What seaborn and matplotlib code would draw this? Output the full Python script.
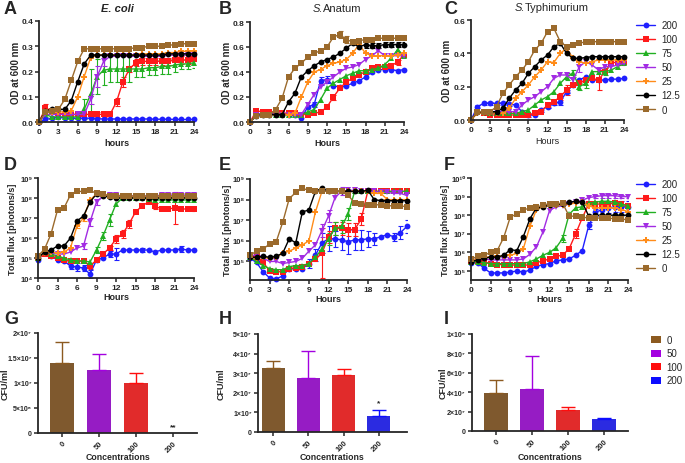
import numpy as np
import pandas as pd
import matplotlib
matplotlib.use("Agg")
import matplotlib.pyplot as plt
import seaborn as sns
from matplotlib.lines import Line2D
from matplotlib.patches import Patch

hours = list(range(25))
concs = ["200", "100", "75", "50", "25", "12.5", "0"]
colors = ["#1f1fff", "#ff1a1a", "#22b022", "#a22be3", "#ff8c1a", "#000000", "#9b6a2c"]
markers = ["o", "s", "^", "v", "P", "o", "s"]

# OD600, E. coli (rows: 200, 100, 75, 50, 25, 12.5, 0)
od_ecoli = [
    [0, .01, .015, .02, .015, .015, .015, .015, .015, .013, .012, .012, .012, .012, .012, .012, .012, .012, .011, .011, .011, .01, .01, .01, .01],
    [0, .055, .045, .035, .03, .03, .03, .03, .03, .03, .03, .03, .08, .16, .21, .235, .24, .24, .24, .24, .24, .245, .245, .245, .25],
    [0, .03, .02, .02, .02, .02, .02, .05, .11, .18, .205, .21, .21, .21, .21, .21, .21, .215, .215, .22, .22, .225, .23, .23, .235],
    [0, .03, .03, .03, .03, .03, .03, .03, .09, .18, .24, .26, .26, .26, .26, .26, .26, .26, .26, .26, .265, .265, .265, .265, .265],
    [0, .04, .04, .04, .04, .045, .10, .18, .255, .265, .265, .265, .265, .265, .265, .265, .27, .27, .27, .27, .275, .275, .28, .28, .28],
    [0, .045, .05, .05, .05, .085, .16, .23, .265, .265, .265, .265, .265, .265, .265, .265, .265, .265, .265, .265, .27, .27, .27, .27, .27],
    [0, .04, .045, .05, .09, .165, .24, .29, .29, .29, .29, .29, .29, .29, .29, .295, .295, .30, .30, .30, .305, .305, .31, .31, .31],
]
od_ecoli_err = {
    "100": [0, .015, 0, 0, 0, 0, 0, 0, .01, .01, .01, 0, .015, .02, .012, .015, .015, .015, .015, .015, .015, .015, .015, .015, .015],
    "75": [0, .01, 0, 0, 0, 0, 0, .04, .1, .07, .06, .05, .05, .05, .05, .03, .03, .03, .03, .03, .03, .025, .02, .02, .02],
    "50": [0, 0, 0, 0, 0, 0, 0, 0, .02, .04, .02, 0, 0, 0, 0, 0, 0, 0, 0, 0, 0, 0, 0, 0, 0],
}

# OD600, S. Anatum
od_anatum = [
    [0, .06, .07, .07, .07, .07, .06, .06, .03, .12, .14, .33, .34, .29, .28, .29, .31, .33, .36, .40, .42, .42, .42, .41, .42],
    [0, .09, .08, .08, .08, .07, .07, .07, .06, .06, .07, .08, .12, .20, .27, .32, .35, .38, .40, .43, .44, .44, .45, .48, .54],
    [0, .06, .06, .06, .06, .06, .06, .06, .06, .08, .10, .18, .27, .31, .34, .37, .39, .41, .41, .42, .43, .46, .51, .58, .53],
    [0, .06, .06, .06, .06, .06, .06, .06, .06, .14, .22, .28, .32, .36, .40, .43, .44, .46, .50, .53, .57, .53, .53, .53, .53],
    [0, .05, .06, .06, .06, .06, .06, .07, .20, .32, .40, .42, .45, .47, .48, .50, .55, .62, .55, .53, .53, .53, .53, .54, .55],
    [0, .05, .06, .06, .06, .06, .16, .23, .36, .41, .45, .48, .50, .52, .55, .59, .63, .60, .62, .61, .61, .62, .62, .62, .62],
    [0, .05, .06, .06, .10, .19, .36, .43, .47, .52, .55, .57, .60, .68, .70, .66, .64, .65, .66, .66, .67, .67, .67, .67, .67],
]
od_anatum_err = {
    "200": [0] * 10 + [.02, .03, .03] + [0] * 12,
    "100": [0] * 13 + [.02] + [0] * 9 + [.02, .02],
    "0": [0] * 14 + [.03, .03] + [0] * 9,
    "12.5": [0] * 18 + [.03, .02, .02, .02, .02, .02, .02],
}

# OD600, S. Typhimurium
od_typhi = [
    [0, .08, .10, .10, .10, .10, .095, .09, .05, .03, .03, .06, .08, .10, .11, .17, .21, .24, .26, .24, .24, .24, .245, .245, .25],
    [0, .05, .04, .03, .03, .03, .03, .03, .03, .03, .04, .05, .09, .11, .14, .18, .21, .22, .24, .25, .24, .29, .34, .35, .35],
    [0, .05, .05, .04, .04, .04, .04, .04, .05, .06, .09, .12, .14, .17, .22, .26, .28, .20, .22, .29, .29, .29, .30, .32, .34],
    [0, .05, .05, .05, .05, .05, .05, .05, .09, .12, .14, .17, .20, .25, .27, .27, .24, .32, .35, .33, .30, .32, .32, .33, .34],
    [0, .04, .04, .04, .04, .04, .07, .13, .17, .21, .26, .30, .35, .345, .40, .43, .37, .35, .34, .35, .36, .36, .36, .36, .36],
    [0, .05, .05, .05, .05, .07, .13, .18, .22, .28, .32, .36, .39, .44, .46, .40, .37, .37, .375, .38, .38, .38, .38, .38, .38],
    [0, .05, .05, .05, .08, .16, .21, .26, .30, .35, .42, .46, .53, .55, .47, .44, .45, .46, .47, .47, .47, .47, .47, .47, .47],
]
od_typhi_err = {
    "200": [0, .01, .01, .01, .01, .01, .01, 0, 0, .01, 0, .01, .01, .01, .02, .01] + [0] * 9,
    "100": [0] * 14 + [.02, .03, 0, 0, 0, 0, .06, 0, 0, .02, .02],
    "75": [0] * 15 + [.02, .02, .02, .03, 0, 0, .02, 0, 0, 0],
    "50": [0] * 16 + [.03, .03, 0, 0, 0, 0, 0, 0, 0],
}

# log10 total flux (photons/s), E. coli
flux_ecoli = [
    [4.9, 5.3, 5.1, 4.9, 4.85, 4.6, 4.55, 4.5, 4.2, 4.9, 5.0, 5.2, 5.2, 5.4, 5.4, 5.4, 5.4, 5.4, 5.3, 5.4, 5.4, 5.4, 5.45, 5.4, 5.4],
    [5.0, 5.2, 5.1, 5.0, 4.9, 4.85, 4.85, 4.85, 4.6, 4.9, 5.2, 5.5, 5.95, 6.2, 6.7, 7.3, 7.6, 7.8, 7.6, 7.45, 7.45, 7.5, 7.45, 7.45, 7.45],
    [5.0, 5.3, 5.2, 5.1, 5.0, 4.9, 4.85, 4.85, 4.8, 5.4, 6.1, 6.9, 7.7, 8.0, 8.0, 8.0, 8.0, 7.95, 7.9, 7.9, 7.9, 7.9, 7.9, 7.9, 7.9],
    [5.0, 5.3, 5.25, 5.2, 5.2, 5.3, 5.5, 5.6, 6.8, 7.8, 8.1, 8.15, 8.15, 8.1, 8.1, 8.1, 8.1, 8.1, 8.1, 8.15, 8.15, 8.15, 8.15, 8.15, 8.15],
    [5.0, 5.25, 5.3, 5.25, 5.3, 5.5, 6.6, 7.0, 7.9, 8.2, 8.2, 8.1, 8.1, 8.05, 8.05, 8.05, 8.05, 8.05, 8.05, 8.05, 8.05, 8.05, 8.05, 8.05, 8.05],
    [5.0, 5.3, 5.4, 5.6, 5.6, 6.0, 6.85, 7.1, 7.8, 8.2, 8.1, 8.05, 8.0, 8.0, 8.0, 8.0, 8.0, 8.0, 8.0, 8.0, 8.0, 8.0, 8.0, 8.0, 8.0],
    [5.1, 5.44, 6.2, 7.4, 7.5, 8.16, 8.33, 8.33, 8.38, 8.23, 8.2, 8.1, 8.1, 8.1, 8.1, 8.1, 8.1, 8.1, 8.1, 8.1, 8.1, 8.1, 8.1, 8.1, 8.1],
]
flux_ecoli_err = {
    "200": [0, 0, 0, 0, 0, .15, .2, .15, .2, 0, 0, .15, .3, 0, 0, 0, .1, 0, 0, 0, 0, 0, .15, 0, 0],
    "100": [0, 0, 0, 0, 0, 0, 0, 0, .15, 0, 0, .1, .2, .2, .2, 0, 0, 0, .15, 0, 0, .8, 0, 0, .1],
    "75": [0, 0, 0, 0, 0, 0, 0, 0, 0, .15, .2, .3, 0, 0, 0, 0, 0, 0, 0, 0, 0, 0, 0, 0, 0],
    "50": [0, 0, 0, 0, 0, 0, 0, .15, .2, .15, 0, 0, 0, 0, 0, 0, 0, 0, 0, .1, .1, .1, .1, .1, .1],
    "25": [0, 0, 0, 0, 0, 0, .1, .15, 0, 0, 0, 0, 0, 0, 0, 0, 0, 0, 0, 0, 0, 0, 0, 0, 0],
}

# log10 total flux, S. Anatum
flux_anatum = [
    [5.15, 4.95, 4.5, 4.2, 4.15, 4.3, 4.65, 4.65, 4.65, 4.9, 5.3, 5.9, 6.1, 6.1, 6.05, 5.95, 6.05, 6.05, 6.1, 6.1, 6.2, 6.3, 6.2, 6.4, 6.7],
    [5.3, 5.2, 4.95, 4.55, 4.5, 4.5, 4.65, 4.7, 4.75, 4.9, 5.1, 5.4, 6.2, 6.6, 6.6, 6.55, 6.55, 7.05, 8.4, 8.4, 8.4, 8.4, 8.4, 8.4, 8.4],
    [5.2, 5.0, 4.8, 4.65, 4.6, 4.6, 4.75, 4.8, 4.8, 4.9, 5.2, 5.6, 6.1, 6.6, 6.7, 7.3, 8.4, 8.4, 8.4, 8.4, 8.4, 8.4, 8.4, 8.4, 8.4],
    [5.3, 5.3, 5.15, 5.0, 5.0, 4.9, 4.95, 5.0, 5.15, 5.5, 5.8, 6.5, 7.2, 8.1, 8.4, 8.45, 8.45, 8.4, 8.4, 8.4, 8.35, 8.35, 8.3, 8.3, 8.2],
    [5.2, 5.15, 5.2, 5.15, 5.2, 5.4, 5.5, 5.65, 5.8, 6.0, 7.4, 8.4, 8.4, 8.4, 8.4, 8.4, 8.4, 8.4, 8.4, 8.3, 8.3, 8.0, 8.0, 8.0, 8.0],
    [5.2, 5.2, 5.25, 5.2, 5.25, 5.4, 6.1, 5.9, 7.4, 7.5, 8.4, 8.55, 8.4, 8.4, 8.4, 8.4, 8.4, 8.4, 8.45, 8.0, 7.95, 7.95, 7.95, 7.95, 7.95],
    [5.3, 5.5, 5.6, 5.85, 5.95, 6.9, 8.05, 8.35, 8.55, 8.45, 8.4, 8.4, 8.4, 8.4, 8.4, 8.2, 7.85, 7.8, 7.75, 7.75, 7.75, 7.7, 7.7, 7.7, 7.65],
]
flux_anatum_err = {
    "200": [0, 0, 0, 0, 0, 0, 0, 0, 0, .2, .3, .5, .6, .4, .5, .6, .5, .5, .4, .3, 0, 0, .2, .3, .3],
    "100": [0, 0, 0, 0, 0, 0, 0, 0, 0, 0, 0, 1.2, .3, .3, .3, .3, .3, .3, 0, 0, 0, 0, 0, 0, 0],
    "75": [0, 0, 0, 0, 0, 0, 0, 0, 0, 0, 0, 0, .3, .3, .3, .3, 0, 0, 0, 0, 0, 0, 0, 0, 0],
    "50": [0, 0, 0, 0, 0, 0, 0, 0, 0, 0, 0, .3, .3, 0, .2, 0, 0, 0, 0, 0, 0, 0, 0, 0, 0],
}

# log10 total flux, S. Typhimurium
flux_typhi = [
    [5.45, 5.45, 5.15, 4.9, 4.9, 4.9, 4.95, 5.0, 4.95, 5.05, 5.25, 5.35, 5.4, 5.55, 5.6, 5.65, 5.85, 6.1, 7.45, 8.15, 8.3, 8.4, 8.45, 8.45, 8.45],
    [5.55, 5.55, 5.5, 5.4, 5.35, 5.35, 5.35, 5.3, 5.3, 5.35, 5.45, 5.55, 5.65, 5.8, 5.85, 6.2, 7.0, 7.85, 8.6, 8.6, 8.6, 8.6, 8.65, 8.6, 8.5],
    [5.5, 5.5, 5.45, 5.4, 5.4, 5.4, 5.4, 5.4, 5.4, 5.5, 5.65, 5.85, 6.0, 6.25, 6.75, 8.05, 8.4, 8.45, 8.65, 8.7, 8.75, 8.75, 8.7, 8.6, 8.5],
    [5.6, 5.65, 5.65, 5.6, 5.6, 5.6, 5.6, 5.6, 5.65, 5.9, 6.3, 7.1, 8.25, 8.45, 8.5, 8.6, 8.7, 8.8, 8.95, 9.0, 9.05, 9.05, 9.05, 9.0, 9.0],
    [5.55, 5.65, 5.75, 5.75, 5.8, 5.8, 5.85, 5.95, 6.2, 7.4, 8.3, 8.45, 8.5, 8.55, 8.55, 8.6, 8.65, 8.7, 8.5, 8.4, 8.4, 8.4, 8.4, 8.3, 8.2],
    [5.5, 5.6, 5.7, 5.75, 5.75, 5.85, 6.15, 6.1, 6.85, 7.8, 8.4, 8.45, 8.55, 8.6, 8.6, 8.7, 8.75, 8.7, 7.95, 8.0, 8.0, 8.0, 8.0, 8.0, 8.0],
    [5.63, 5.8, 5.85, 6.0, 6.1, 6.8, 7.9, 8.07, 8.29, 8.38, 8.42, 8.55, 8.62, 8.63, 8.65, 7.95, 7.95, 7.9, 7.85, 7.85, 7.85, 7.85, 7.8, 7.8, 7.75],
]
flux_typhi_err = {
    "200": [0, 0, 0, 0, 0, 0, 0, 0, 0, 0, 0, 0, 0, 0, 0, 0, 0, 0, .2, .2, .3, .3, .3, .3, .3],
    "100": [0, 0, 0, 0, 0, 0, 0, 0, 0, 0, 0, 0, 0, 0, 0, 0, .25, 0, 0, 0, 0, 0, 0, 0, 0],
    "75": [0, 0, 0, 0, 0, 0, 0, 0, 0, 0, 0, 0, 0, 0, .2, 0, 0, 0, 0, 0, 0, 0, 0, 0, 0],
    "50": [0, 0, 0, 0, 0, 0, 0, 0, 0, 0, 0, 0, 0, 0, 0, 0, 0, 0, 0, .1, .1, .1, .1, .1, .1],
}

# CFU/ml at 24 h
bar_concs = ["0", "50", "100", "200"]
bar_colors = ["#8c5a20", "#a300e0", "#ff0d0d", "#0d0dff"]
cfu_ecoli = [1.4e7, 1.27e7, 1.0e7, 0]
cfu_ecoli_sd = [0.43e7, 0.32e7, 0.2e7, 0]
cfu_anatum = [3.25e7, 2.75e7, 2.9e7, 0.8e7]
cfu_anatum_sd = [0.36e7, 1.4e7, 0.33e7, 0.32e7]
cfu_typhi = [3.9e7, 4.35e7, 2.2e7, 1.2e7]
cfu_typhi_sd = [1.35e7, 3.35e7, 0.3e7, 0.1e7]

sns.set_style("ticks")
plt.rcParams["font.family"] = ["Liberation Sans", "DejaVu Sans"]
plt.rcParams["font.weight"] = "bold"
plt.rcParams["axes.labelweight"] = "bold"
plt.rcParams["axes.linewidth"] = 1.3

W, H = 685, 464
fig = plt.figure(figsize=(W / 100, H / 100), dpi=100)


def box(x0, x1, y0, y1):
    return [x0 / W, 1 - y1 / H, (x1 - x0) / W, (y1 - y0) / H]


SUP = str.maketrans("0123456789", "⁰¹²³⁴⁵⁶⁷⁸⁹")


def style_ax(ax):
    sns.despine(ax=ax)
    ax.tick_params(labelsize=6, width=1.1, length=3, pad=1.5)
    for lab in ax.get_xticklabels() + ax.get_yticklabels():
        lab.set_fontweight("bold")


def place_labels(ax, rect, ylab_x, xlab_y):
    x0, x1, y0, y1 = rect
    ax.yaxis.set_label_coords(ylab_x / W, 1 - (y0 + y1) / 2 / H, transform=fig.transFigure)
    ax.xaxis.set_label_coords((x0 + x1) / 2 / W, 1 - xlab_y / H, transform=fig.transFigure)
    ax.xaxis.label.set_va("center")
    ax.yaxis.label.set_va("center")


def long_df(series, log=False):
    rows = []
    for c, vals in zip(concs, series):
        for t, v in zip(hours, vals):
            rows.append((t, 10 ** v if log else v, c))
    return pd.DataFrame(rows, columns=["Hours", "value", "conc"])


def line_panel(rect, series, errs, log, ylim, yticks, xlabel, ylabel, ylab_x, xlab_y, ysize):
    ax = fig.add_axes(box(*rect))
    df = long_df(series, log)
    if log:
        ax.set_yscale("log")
    for c, col in zip(concs, colors):
        if c in errs:
            v = np.array(series[concs.index(c)])
            e = np.array(errs[c])
            m = e > 0
            t = np.array(hours)[m]
            if log:
                y = 10 ** v
                lo, hi = y - 10 ** (v - e), 10 ** (v + e) - y
                ax.errorbar(t, y[m], yerr=[lo[m], hi[m]], fmt="none", ecolor=col,
                            elinewidth=0.8, capsize=1.8, capthick=0.8)
            else:
                ax.errorbar(t, v[m], yerr=e[m], fmt="none", ecolor=col,
                            elinewidth=0.8, capsize=1.8, capthick=0.8)
    sns.lineplot(data=df, x="Hours", y="value", hue="conc", style="conc",
                 hue_order=concs, style_order=concs, palette=colors,
                 markers=markers, dashes=False, markersize=4.2, markeredgewidth=0,
                 linewidth=1.0, ax=ax, legend=False, clip_on=False)
    ax.set_xlim(0, 24)
    ax.set_xticks(range(0, 25, 3))
    ax.set_ylim(*ylim)
    if log:
        ax.set_yticks([10 ** k for k in yticks])
        ax.set_yticklabels(["10" + str(k).translate(SUP) for k in yticks])
    else:
        ax.set_yticks(yticks)
        ax.set_yticklabels([f"{t:.1f}" for t in yticks])
    ax.minorticks_off()
    ax.set_xlabel(xlabel, fontsize=6.5)
    ax.set_ylabel(ylabel, fontsize=ysize)
    style_ax(ax)
    ax.tick_params(axis="y", pad=1)
    if log:
        ax.tick_params(axis="y", labelsize=5.5)
    place_labels(ax, rect, ylab_x, xlab_y)
    return ax


od_ticks_a = [0.0, 0.1, 0.2, 0.3, 0.4]
od_ticks_b = [0.0, 0.2, 0.4, 0.6, 0.8]
od_ticks_c = [0.0, 0.2, 0.4, 0.6]
od_label = "OD at 600 nm"
flux_label = "Total flux [photons/s]"

ax_a = line_panel((39, 194, 22, 123), od_ecoli, od_ecoli_err, False, (0, 0.4), od_ticks_a, "hours", od_label, 16, 144, 7)
ax_b = line_panel((250, 404, 23, 123), od_anatum, od_anatum_err, False, (0, 0.8), od_ticks_b, "Hours", od_label, 227, 144, 7)
ax_c = line_panel((471, 624, 21, 121), od_typhi, od_typhi_err, False, (0, 0.6), od_ticks_c, "Hours", od_label, 447, 142, 7)
ax_c.xaxis.label.set_fontweight("normal")

ax_d = line_panel((38, 194, 179, 279), flux_ecoli, flux_ecoli_err, True, (1e4, 1e9), [4, 5, 6, 7, 8, 9], "Hours", flux_label, 13, 298, 6.5)
ax_e = line_panel((250, 407, 180, 281), flux_anatum, flux_anatum_err, True, (10 ** 4.1, 1e9), [5, 6, 7, 8, 9], "Hours", flux_label, 227, 300, 6.5)
ax_f = line_panel((471, 628, 179, 281), flux_typhi, flux_typhi_err, True, (10 ** 4.52, 1e10), [5, 6, 7, 8, 9, 10], "Hours", flux_label, 446, 300, 6.5)


def bar_panel(rect, vals, sd, xlim, yticks, ylabels, ylab_x, stars=None):
    ax = fig.add_axes(box(*rect))
    df = pd.DataFrame({"conc": bar_concs, "cfu": vals})
    sns.barplot(data=df, x="conc", y="cfu", hue="conc", palette=bar_colors,
                order=bar_concs, width=0.66, legend=False, ax=ax,
                edgecolor="none", linewidth=0)
    for i, (v, s, col) in enumerate(zip(vals, sd, bar_colors)):
        if s > 0:
            ax.errorbar(i, v, yerr=[[0], [s]], fmt="none", ecolor=col,
                        elinewidth=1.0, capsize=5, capthick=1.0)
    if stars:
        i, txt, y = stars
        ax.text(i, y, txt, ha="center", va="bottom", fontsize=6)
    ax.set_xlim(*xlim)
    ax.set_ylim(yticks[0], yticks[-1])
    ax.set_yticks(yticks)
    ax.set_yticklabels(ylabels)
    ax.set_xticks(range(4))
    ax.set_xticklabels(bar_concs, rotation=45, ha="right", rotation_mode="anchor")
    ax.set_xlabel("Concentrations", fontsize=6.3)
    ax.set_ylabel("CFU/ml", fontsize=6.5)
    style_ax(ax)
    ax.tick_params(axis="y", labelsize=5)
    ax.tick_params(axis="x", labelsize=5.5)
    place_labels(ax, rect, ylab_x, 458)
    return ax


bar_panel((38, 197, 334, 434), cfu_ecoli, cfu_ecoli_sd, (-0.65, 3.65),
          [0, 5e6, 1e7, 1.5e7, 2e7], ["0", "5×10⁶", "1×10⁷", "1.5×10⁷", "2×10⁷"], 5, (3, "**", 0.05e7))
bar_panel((258, 407, 335, 433), cfu_anatum, cfu_anatum_sd, (-0.43, 3.8),
          [0, 1e7, 2e7, 3e7, 4e7, 5e7], ["0", "1×10⁷", "2×10⁷", "3×10⁷", "4×10⁷", "5×10⁷"], 221, (3, "*", 1.3e7))
bar_panel((472, 628, 335, 432), cfu_typhi, cfu_typhi_sd, (-0.67, 3.67),
          [0, 2e7, 4e7, 6e7, 8e7, 1e8], ["0", "2×10⁷", "4×10⁷", "6×10⁷", "8×10⁷", "1×10⁸"], 443)

# legends
line_handles = [Line2D([], [], color=c, marker=m, markersize=4.2, markeredgewidth=0, lw=1.0)
                for c, m in zip(colors, markers)]
for ytop in (21, 180):
    fig.legend(line_handles, concs, loc="upper left", bbox_to_anchor=(636 / W, 1 - ytop / H),
               frameon=False, handlelength=2.0, handletextpad=0.6,
               labelspacing=0.42, borderaxespad=0, borderpad=0,
               prop={"size": 7, "weight": "normal"})
bar_handles = [Patch(facecolor=c, edgecolor="none") for c in bar_colors]
fig.legend(bar_handles, bar_concs, loc="upper left", bbox_to_anchor=(651 / W, 1 - 336 / H),
           frameon=False, handlelength=1.0, handleheight=0.7, handletextpad=0.6,
           labelspacing=0.36, borderaxespad=0, borderpad=0,
           prop={"size": 7, "weight": "normal"})

# panel letters and titles
for letter, x, y in [("A", 4, 10), ("B", 219, 10), ("C", 444, 10),
                     ("D", 4, 166), ("E", 219, 166), ("F", 444, 166),
                     ("G", 4, 320), ("H", 219, 320), ("I", 444, 320)]:
    fig.text(x / W, 1 - y / H, letter, fontsize=13, fontweight="bold", va="center", ha="left")

fig.text(117 / W, 1 - 9 / H, "E. coli", fontsize=8, style="italic", fontweight="bold", ha="center", va="center")
fig.text(313 / W, 1 - 9 / H, "S.", fontsize=8, style="italic", fontweight="normal", ha="left", va="center")
fig.text(323 / W, 1 - 9 / H, "Anatum", fontsize=8, fontweight="normal", ha="left", va="center")
fig.text(515 / W, 1 - 8 / H, "S.", fontsize=8, style="italic", fontweight="normal", ha="left", va="center")
fig.text(525 / W, 1 - 8 / H, "Typhimurium", fontsize=8, fontweight="normal", ha="left", va="center")

fig.savefig("out.png", dpi=100, facecolor="white")
